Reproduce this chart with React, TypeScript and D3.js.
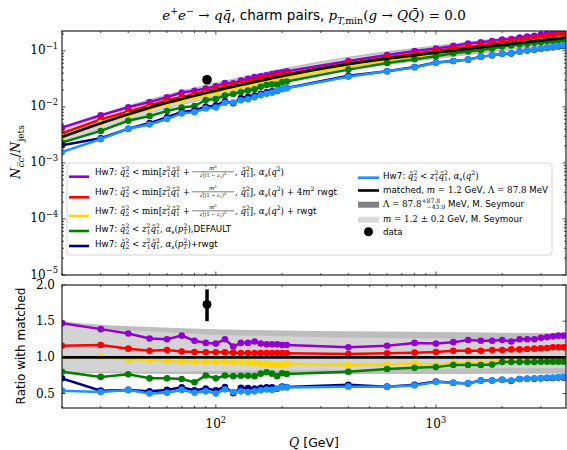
import React, { useLayoutEffect, useRef, useState } from 'react';
import * as d3 from 'd3';

// Q points of the generator curves (GeV)
const qPoints = [20, 30, 40, 50, 60, 70, 80, 90, 100, 110, 120, 130, 140, 150, 160, 170, 180, 190, 200, 210,
  400, 600, 800, 1000, 1200, 1400, 1600, 1800, 2000, 2200, 2400, 2600, 2800, 3000, 3200, 3400, 3600, 3800];

// matched curve (smooth black line), N_cc/N_jets
const matchedQ = [...qPoints, 4000];
const matchedVals = [0.0029, 0.0051, 0.0074, 0.0097, 0.0119, 0.0139, 0.0158, 0.0177, 0.0195, 0.0213,
  0.0230, 0.0247, 0.0263, 0.0279, 0.0295, 0.0310, 0.0325, 0.0340, 0.0354, 0.0368,
  0.0578, 0.0725, 0.0830, 0.0928, 0.1013, 0.1089, 0.1158, 0.1221, 0.1280, 0.1335,
  0.1387, 0.1437, 0.1485, 0.1531, 0.1575, 0.1618, 0.1659, 0.1699, 0.1738];

// ratio to matched
const ratioPurple = [1.47, 1.39, 1.33, 1.26, 1.25, 1.30, 1.23, 1.20, 1.19, 1.25, 1.15, 1.20, 1.20, 1.22, 1.19, 1.18, 1.18, 1.18, 1.17, 1.17,
  1.14, 1.16, 1.20, 1.19, 1.21, 1.24, 1.23, 1.23, 1.24, 1.22, 1.25, 1.25, 1.25, 1.27, 1.28, 1.29, 1.30, 1.30];
const ratioRed = [1.16, 1.17, 1.12, 1.09, 1.10, 1.08, 1.075, 1.07, 1.07, 1.07, 1.065, 1.06, 1.06, 1.06, 1.06, 1.06, 1.06, 1.06, 1.06, 1.055,
  1.045, 1.055, 1.065, 1.075, 1.09, 1.09, 1.09, 1.10, 1.10, 1.11, 1.11, 1.115, 1.12, 1.125, 1.13, 1.14, 1.14, 1.14];
const ratioYellow = [1.00, 1.01, 0.97, 0.965, 0.95, 0.945, 0.94, 0.94, 0.94, 0.94, 0.93, 0.94, 0.93, 0.92, 0.91, 0.91, 0.90, 0.90, 0.89, 0.91,
  0.89, 0.90, 0.915, 0.895, 0.92, 0.92, 0.92, 0.94, 0.95, 0.95, 0.95, 0.95, 0.955, 0.955, 0.95, 0.95, 0.955, 0.96];
const ratioGreen = [0.80, 0.73, 0.765, 0.71, 0.71, 0.70, 0.655, 0.75, 0.71, 0.75, 0.74, 0.745, 0.745, 0.74, 0.775, 0.795, 0.775, 0.74, 0.78, 0.77,
  0.80, 0.84, 0.855, 0.865, 0.895, 0.895, 0.895, 0.90, 0.935, 0.935, 0.935, 0.935, 0.935, 0.94, 0.94, 0.94, 0.94, 0.94];
const ratioNavy = [0.71, 0.54, 0.55, 0.53, 0.55, 0.585, 0.545, 0.57, 0.545, 0.59, 0.505, 0.58, 0.575, 0.57, 0.58, 0.585, 0.585, 0.565, 0.595, 0.59,
  0.62, 0.595, 0.62, 0.665, 0.65, 0.64, 0.68, 0.68, 0.69, 0.675, 0.70, 0.705, 0.705, 0.71, 0.715, 0.715, 0.72, 0.72];
const ratioBlue = [0.54, 0.52, 0.55, 0.50, 0.51, 0.55, 0.51, 0.53, 0.50, 0.555, 0.52, 0.53, 0.52, 0.53, 0.545, 0.555, 0.55, 0.57, 0.585, 0.585,
  0.595, 0.595, 0.61, 0.66, 0.65, 0.64, 0.68, 0.68, 0.69, 0.68, 0.70, 0.705, 0.71, 0.71, 0.72, 0.72, 0.725, 0.73];

// uncertainty bands (ratio to matched)
const bandQ = [20, 30, 50, 100, 200, 400, 1000, 2000, 4000];
const lambdaUp = [1.50, 1.45, 1.42, 1.39, 1.37, 1.36, 1.35, 1.34, 1.33];
const lambdaDn = [0.78, 0.78, 0.775, 0.77, 0.77, 0.77, 0.77, 0.775, 0.775];
const massUp = [1.46, 1.40, 1.36, 1.31, 1.29, 1.27, 1.26, 1.25, 1.24];
const massDn = [0.80, 0.80, 0.80, 0.81, 0.82, 0.83, 0.84, 0.85, 0.85];

// measurement
const dataQ = [91.2];
const dataVal = [0.0305];
const dataErr = [0.003];
const dataRatio = [1.73];
const dataRatioLo = [1.50];
const dataRatioHi = [1.94];

const SANS = 'DejaVu Sans, sans-serif';
const SERIF = 'DejaVu Serif, serif';

type Seg = { t: string; k?: string; p?: string; dx?: number };
const s = (t: string): Seg => ({ t, k: 'sans' });
const it = (t: string): Seg => ({ t, k: 'it' });
const rm = (t: string): Seg => ({ t, k: 'rm' });
const up = (t: string, k = 'rm', dx?: number): Seg => ({ t, k, p: 'sup', dx });
const dn = (t: string, k = 'rm', dx?: number): Seg => ({ t, k, p: 'sub', dx });

const qt = (n: string): Seg[] => [it('q\u0303'), dn(n), up('2', 'rm', -0.45)];
const zq = (): Seg[] => [it('z'), dn('1'), up('2', 'rm', -0.45), ...qt('1')];

function Rich({ x, y, size, segs, anchor = 'start', transform, textRef }: any) {
  let cur = 0;
  return (
    <text ref={textRef} x={x} y={y} fontSize={size} textAnchor={anchor} transform={transform} fill="#000" style={{ whiteSpace: 'pre' }}>
      {segs.map((g: Seg, i: number) => {
        const target = g.p === 'sup' ? -0.42 * size : g.p === 'sub' ? 0.28 * size : 0;
        const dy = target - cur;
        cur = target;
        return (
          <tspan key={i} dy={dy} dx={g.dx ? g.dx * size : undefined}
            fontSize={g.p ? size * 0.7 : size}
            fontFamily={g.k === 'sans' ? SANS : SERIF}
            fontStyle={g.k === 'it' ? 'italic' : 'normal'}>
            {g.t}
          </tspan>
        );
      })}
    </text>
  );
}

function Frac({ cx, base }: { cx: number; base: number }) {
  return (
    <g>
      <Rich x={cx} y={base - 5} size={5.5} anchor="middle" segs={[it('m'), up('2')]} />
      <line x1={cx - 21} x2={cx + 21} y1={base - 3.2} y2={base - 3.2} stroke="#000" strokeWidth={0.5} />
      <Rich x={cx} y={base + 1.8} size={5} anchor="middle"
        segs={[it('z'), dn('1'), up('2', 'rm', -0.45), rm('(1 \u2212 '), it('z'), dn('1'), rm(')'), up('2')]} />
    </g>
  );
}

// legend row with the m^2 / (z^2 (1-z)^2) fraction: the head is measured so the fraction follows it
function FracRow({ x0, base, size, head, tail }: any) {
  const ref = useRef<SVGTextElement>(null);
  const [w, setW] = useState(96);
  useLayoutEffect(() => {
    if (ref.current) {
      const b = ref.current.getBBox();
      setW(b.x + b.width - x0);
    }
  }, []);
  const fx = x0 + w + 2;
  return (
    <g>
      <Rich textRef={ref} x={x0} y={base} size={size} segs={head} />
      <Frac cx={fx + 21} base={base} />
      <Rich x={fx + 43} y={base} size={size} segs={tail} />
    </g>
  );
}

export default function App() {
  const W = 567, H = 450;
  const L = 62, R = 566;
  const x = d3.scaleLog().domain([20, 3900]).range([L, R]);
  const yTop = d3.scaleLog().domain([1e-5, 0.226]).range([275, 31]);
  const yRat = d3.scaleLinear().domain([0.3, 2.0]).range([408, 285]);

  const series = [
    { name: 'purple', color: '#9400d3', ratio: ratioPurple },
    { name: 'red', color: '#ff0000', ratio: ratioRed },
    { name: 'yellow', color: '#ffd700', ratio: ratioYellow },
    { name: 'green', color: '#008000', ratio: ratioGreen },
    { name: 'navy', color: '#000080', ratio: ratioNavy },
    { name: 'blue', color: '#1e90ff', ratio: ratioBlue },
  ];

  const lineTop = d3.line<[number, number]>().x(d => x(d[0])).y(d => yTop(d[1]));
  const lineRat = d3.line<[number, number]>().x(d => x(d[0])).y(d => yRat(d[1]));
  const smoothTop = d3.line<[number, number]>().x(d => x(d[0])).y(d => yTop(d[1])).curve(d3.curveMonotoneX);

  const mAt = (q: number) => matchedVals[matchedQ.indexOf(q)];
  const areaTop = d3.area<[number, number, number]>().x(d => x(d[0])).y0(d => yTop(d[1] * mAt(d[0]))).y1(d => yTop(d[2] * mAt(d[0]))).curve(d3.curveMonotoneX);
  const areaRat = d3.area<[number, number, number]>().x(d => x(d[0])).y0(d => yRat(d[1])).y1(d => yRat(d[2])).curve(d3.curveMonotoneX);
  const lamBand = bandQ.map((q, i) => [q, lambdaDn[i], lambdaUp[i]] as [number, number, number]);
  const mBand = bandQ.map((q, i) => [q, massDn[i], massUp[i]] as [number, number, number]);

  const xTicks = x.ticks();
  const isMajor = (t: number) => Math.abs(Math.log10(t) - Math.round(Math.log10(t))) < 1e-6;
  const yTopTicks = yTop.ticks();
  const yRatTicks = [0.5, 1.0, 1.5, 2.0];

  const spine = '#222';
  const panelTicks = (y0: number, y1: number, yTicks: { v: number; major: boolean }[], ys: (v: number) => number) => (
    <g stroke={spine} strokeWidth={0.8}>
      {xTicks.map((t, i) => {
        const len = isMajor(t) ? 3.5 : 2;
        return <g key={'x' + i}>
          <line x1={x(t)} x2={x(t)} y1={y1} y2={y1 - len} />
          <line x1={x(t)} x2={x(t)} y1={y0} y2={y0 + len} />
        </g>;
      })}
      {yTicks.map((t, i) => {
        const len = t.major ? 3.5 : 2;
        return <g key={'y' + i}>
          <line x1={L} x2={L + len} y1={ys(t.v)} y2={ys(t.v)} />
          <line x1={R} x2={R - len} y1={ys(t.v)} y2={ys(t.v)} />
        </g>;
      })}
    </g>
  );

  const legRowsL = [176.7, 197.3, 216, 231, 246];
  const legBaseL = [175, 195, 214, 232, 247];
  const fs = 8.7;

  return (
    <svg width={W} height={H} style={{ position: 'absolute', left: 0, top: 0, background: '#fff' }}>
      <defs>
        <clipPath id="clipTop"><rect x={L} y={31} width={R - L} height={244} /></clipPath>
        <clipPath id="clipRat"><rect x={L} y={285} width={R - L} height={123} /></clipPath>
      </defs>
      <rect width={W} height={H} fill="#fff" />

      {/* title */}
      <Rich x={314} y={20} size={13.5} anchor="middle"
        segs={[it('e'), up('+'), it('e'), up('\u2212'), rm(' \u2192 '), it('q'), it('q\u0304'), s(', charm pairs, '),
          it('p'), dn('T,', 'it'), dn('min'), rm('('), it('g'), rm(' \u2192 '), it('Q'), it('Q\u0304'), rm(') = 0.0')]} />

      {/* ===== top panel ===== */}
      <g clipPath="url(#clipTop)">
        <path d={areaTop(lamBand) || ''} fill="#bdbdbd" />
        <path d={areaTop(mBand) || ''} fill="#d3d3d3" />
        {series.map(sr => {
          const pts = qPoints.map((q, i) => [q, sr.ratio[i] * matchedVals[i]] as [number, number]);
          return <g key={sr.name}>
            <path d={lineTop(pts) || ''} fill="none" stroke={sr.color} strokeWidth={2.5} />
            {pts.map((p, i) => <circle key={i} cx={x(p[0])} cy={yTop(p[1])} r={3.3} fill={sr.color} />)}
          </g>;
        })}
        <path d={smoothTop(matchedQ.map((q, i) => [q, matchedVals[i]] as [number, number])) || ''} fill="none" stroke="#000" strokeWidth={2.8} />
        {dataQ.map((q, i) => <g key={i}>
          <line x1={x(q)} x2={x(q)} y1={yTop(dataVal[i] - dataErr[i])} y2={yTop(dataVal[i] + dataErr[i])} stroke="#000" strokeWidth={3.5} />
          <circle cx={x(q)} cy={yTop(dataVal[i])} r={4.8} fill="#000" />
        </g>)}
      </g>
      {panelTicks(31, 275, yTopTicks.map(v => ({ v, major: isMajor(v) })), v => yTop(v))}
      <rect x={L} y={31} width={R - L} height={244} fill="none" stroke={spine} strokeWidth={1.2} />
      {yTopTicks.filter(isMajor).map((t, i) => (
        <Rich key={i} x={58} y={yTop(t) + 3.5} size={12} anchor="end" segs={[rm('10'), up('\u2212' + Math.round(-Math.log10(t)))]} />
      ))}
      <Rich x={0} y={0} size={13} anchor="middle" transform="translate(20,152) rotate(-90)"
        segs={[it('N'), dn('c\u0305c', 'it'), rm('/'), it('N'), dn('jets')]} />

      {/* legend */}
      <rect x={67} y={163} width={485} height={92} rx={3} fill="#fff" fillOpacity={0.8} stroke="#cccccc" strokeWidth={0.8} />
      {series.slice(0, 5).map((sr, i) => (
        <line key={sr.name} x1={69} x2={89} y1={legRowsL[i]} y2={legRowsL[i]} stroke={sr.color} strokeWidth={2.6} />
      ))}
      {[0, 1, 2].map(k => (
        <FracRow key={k} x0={95} base={legBaseL[k]} size={fs}
          head={[s('Hw7: '), ...qt('2'), rm(' < min['), ...zq(), rm(' +')]}
          tail={[rm(', '), ...qt('1'), rm('], '), it('\u03b1'), dn('s', 'it'), rm('('), it('q'), up('2'), rm(')'),
            ...(k === 1 ? [rm(' + 4'), it('m'), up('2'), s(' rwgt')] : k === 2 ? [rm(' + '), s('rwgt')] : [])]} />
      ))}
      {[3, 4].map(k => (
        <Rich key={k} x={95} y={legBaseL[k]} size={fs}
          segs={[s('Hw7: '), ...qt('2'), rm(' < '), ...zq(), rm(', '), it('\u03b1'), dn('s', 'it'), rm('('), it('p'), dn('T', 'it'), up('2', 'rm', -0.45), rm(')'),
            s(k === 3 ? ',DEFAULT' : '+rwgt')]} />
      ))}
      <line x1={358} x2={379} y1={177.7} y2={177.7} stroke="#1e90ff" strokeWidth={2.6} />
      <Rich x={383} y={178.5} size={fs} segs={[s('Hw7: '), ...qt('2'), rm(' < '), ...zq(), rm(', '), it('\u03b1'), dn('s', 'it'), rm('('), it('q'), up('2'), rm(')')]} />
      <line x1={358} x2={379} y1={190.5} y2={190.5} stroke="#000" strokeWidth={2.6} />
      <Rich x={383} y={192.5} size={fs} segs={[s('matched, '), it('m'), rm(' = 1.2 '), s('GeV, '), rm('\u039b = 87.8 '), s('MeV')]} />
      <rect x={358} y={201.7} width={21} height={6} fill="#808080" />
      <Rich x={383} y={207} size={fs} segs={[rm('\u039b = 87.8'), up('+87.8'), dn('\u221243.9', 'rm', -1.55), s(' MeV, M. Seymour')]} />
      <rect x={358} y={216.7} width={21} height={6} fill="#d9d9d9" />
      <Rich x={383} y={222.3} size={fs} segs={[it('m'), rm(' = 1.2 \u00b1 0.2 '), s('GeV, M. Seymour')]} />
      <circle cx={368.5} cy={231.7} r={4.5} fill="#000" />
      <Rich x={383} y={234.5} size={fs} segs={[s('data')]} />

      {/* ===== ratio panel ===== */}
      <g clipPath="url(#clipRat)">
        <path d={areaRat(lamBand) || ''} fill="#bdbdbd" />
        <path d={areaRat(mBand) || ''} fill="#d3d3d3" />
        {series.map(sr => {
          const pts = qPoints.map((q, i) => [q, sr.ratio[i]] as [number, number]);
          return <g key={sr.name}>
            <path d={lineRat(pts) || ''} fill="none" stroke={sr.color} strokeWidth={2.5} />
            {pts.map((p, i) => <circle key={i} cx={x(p[0])} cy={yRat(p[1])} r={3.3} fill={sr.color} />)}
          </g>;
        })}
        <path d={lineRat(matchedQ.map((q, i) => [q, matchedVals[i] / matchedVals[i]] as [number, number])) || ''} fill="none" stroke="#000" strokeWidth={2.8} />
        {dataQ.map((q, i) => <g key={i}>
          <line x1={x(q)} x2={x(q)} y1={yRat(dataRatioLo[i])} y2={yRat(dataRatioHi[i])} stroke="#000" strokeWidth={3.5} />
          <circle cx={x(q)} cy={yRat(dataRatio[i])} r={4.5} fill="#000" />
        </g>)}
      </g>
      {panelTicks(285, 408, yRatTicks.map(v => ({ v, major: true })), v => yRat(v))}
      <rect x={L} y={285} width={R - L} height={123} fill="none" stroke={spine} strokeWidth={1.2} />
      {yRatTicks.map((t, i) => (
        <text key={i} x={55} y={yRat(t) + 4} fontSize={12} fontFamily={SERIF} textAnchor="end">{t.toFixed(1)}</text>
      ))}
      {xTicks.filter(isMajor).map((t, i) => (
        <Rich key={i} x={x(t)} y={428} size={12} anchor="middle" segs={[rm('10'), up(String(Math.round(Math.log10(t))))]} />
      ))}
      <Rich x={314} y={447} size={12.5} anchor="middle" segs={[it('Q'), s(' [GeV]')]} />
      <text x={0} y={0} fontSize={12} fontFamily={SANS} textAnchor="middle" transform="translate(25,346) rotate(-90)">Ratio with matched</text>
    </svg>
  );
}
